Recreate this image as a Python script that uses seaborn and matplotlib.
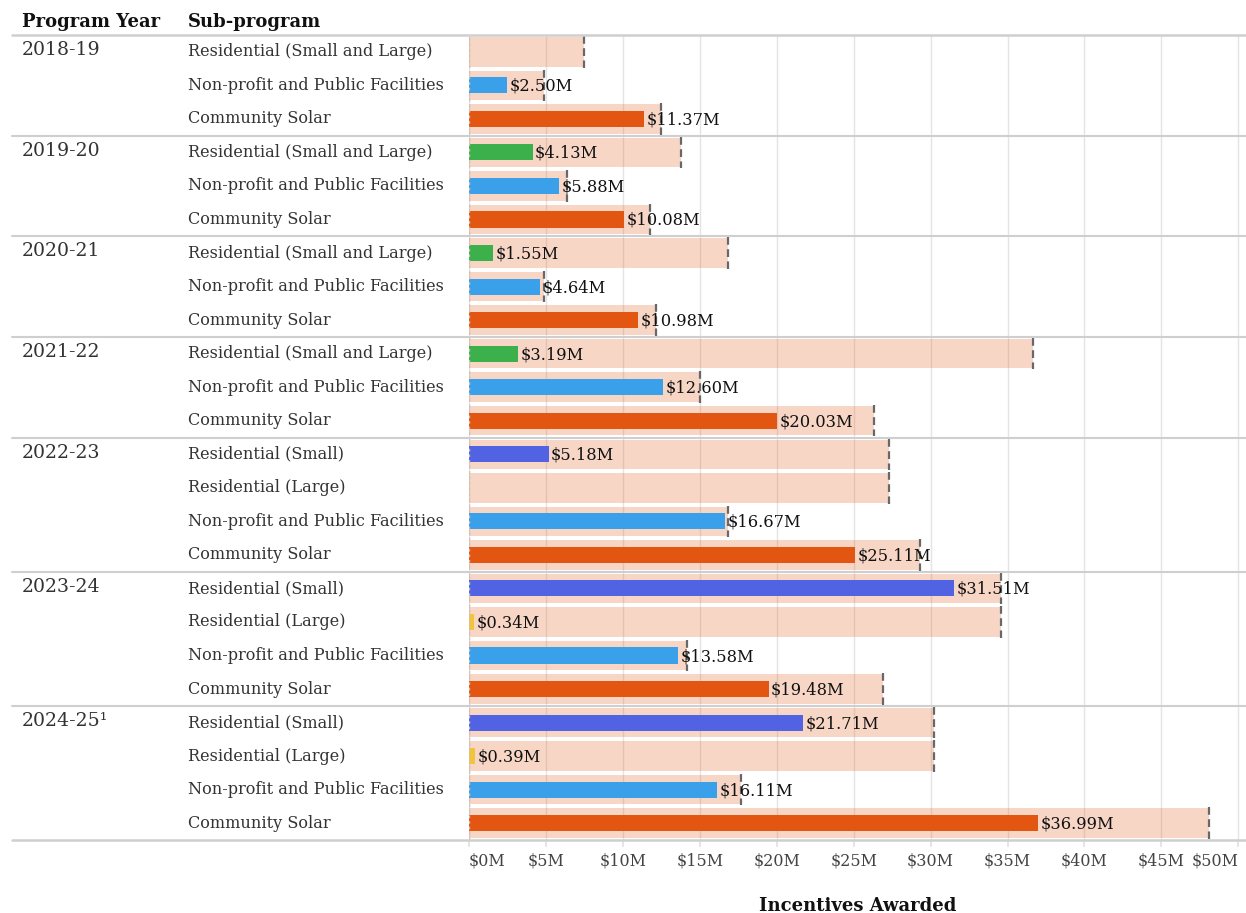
import numpy as np
import pandas as pd
import matplotlib
matplotlib.use("Agg")
import matplotlib.pyplot as plt
from matplotlib.transforms import blended_transform_factory
import seaborn as sns

# ---- data -------------------------------------------------------------
program_years = ["2018-19", "2019-20", "2020-21", "2021-22", "2022-23", "2023-24", "2024-25\u00b9"]
rows_per_year = [3, 3, 3, 3, 4, 4, 4]

sub_programs = [
    "Residential (Small and Large)", "Non-profit and Public Facilities", "Community Solar",
    "Residential (Small and Large)", "Non-profit and Public Facilities", "Community Solar",
    "Residential (Small and Large)", "Non-profit and Public Facilities", "Community Solar",
    "Residential (Small and Large)", "Non-profit and Public Facilities", "Community Solar",
    "Residential (Small)", "Residential (Large)", "Non-profit and Public Facilities", "Community Solar",
    "Residential (Small)", "Residential (Large)", "Non-profit and Public Facilities", "Community Solar",
    "Residential (Small)", "Residential (Large)", "Non-profit and Public Facilities", "Community Solar",
]

# incentives awarded ($M); NaN where nothing was awarded
awarded = [
    np.nan, 2.50, 11.37,
    4.13, 5.88, 10.08,
    1.55, 4.64, 10.98,
    3.19, 12.60, 20.03,
    5.18, np.nan, 16.67, 25.11,
    31.51, 0.34, 13.58, 19.48,
    21.71, 0.39, 16.11, 36.99,
]

# available budget ($M)
budget = [
    7.5, 4.9, 12.5,
    13.8, 6.4, 11.75,
    16.85, 4.85, 12.15,
    36.65, 15.0, 26.3,
    27.3, 27.3, 16.85, 29.3,
    34.6, 34.6, 14.15, 26.9,
    30.2, 30.2, 17.7, 48.1,
]

x_ticks = [0, 5, 10, 15, 20, 25, 30, 35, 40, 45, 50]
x_tick_labels = ["$0M", "$5M", "$10M", "$15M", "$20M", "$25M", "$30M",
                 "$35M", "$40M", "$45M", "$50M"]

palette = {
    "Residential (Small and Large)": "#3cb04a",
    "Non-profit and Public Facilities": "#3aa0ea",
    "Community Solar": "#e35612",
    "Residential (Small)": "#5163e3",
    "Residential (Large)": "#f0c43c",
}
budget_color = "#e35612"

# ---- frame --------------------------------------------------------------
row_ids = [f"r{i}" for i in range(len(sub_programs))]
df = pd.DataFrame({"row": row_ids, "sub": sub_programs,
                   "awarded": awarded, "budget": budget})

sns.set_theme(style="white")
plt.rcParams["font.family"] = ["DejaVu Serif"]

W, H = 1246, 913
fig = plt.figure(figsize=(W / 100, H / 100), dpi=100)
ax_left, ax_right = 469 / W, 1.0
ax_top, ax_bottom = 1 - 35 / H, 1 - 840 / H
ax = fig.add_axes([ax_left, ax_bottom, ax_right - ax_left, ax_top - ax_bottom])

# budget bars (translucent) and awarded bars
sns.barplot(data=df, x="budget", y="row", order=row_ids, orient="h",
            color=budget_color, saturation=1, alpha=0.24, width=0.88,
            linewidth=0, errorbar=None, ax=ax)
sns.barplot(data=df.dropna(subset=["awarded"]), x="awarded", y="row",
            order=row_ids, orient="h", hue="sub", palette=palette,
            dodge=False, saturation=1, width=0.48, linewidth=0,
            errorbar=None, legend=False, ax=ax)

n = len(row_ids)
ax.set_ylim(n - 0.5, -0.5)
ax.set_xlim(0, 50.5)

# budget markers
ax.vlines(budget, np.arange(n) - 0.47, np.arange(n) + 0.47,
          colors="#686868", linestyles=(0, (3.5, 2)), linewidth=1.6, zorder=4)
ax.axvline(0, color="#cdbfb8", linestyle=(0, (2, 2)), linewidth=1, zorder=1)

# value labels
for i, v in enumerate(awarded):
    if not np.isnan(v):
        ax.text(v + 0.15, i + 0.03, f"${v:.2f}M", va="center", ha="left",
                fontsize=11.7, color="#111111", zorder=5)

# axes styling
for s in ax.spines.values():
    s.set_visible(False)
ax.set_yticks([])
ax.set_ylabel("")
ax.set_xticks(x_ticks)
ax.set_xticklabels(x_tick_labels, fontsize=11.5, color="#444444")
labels = ax.get_xticklabels()
labels[0].set_ha("left")
labels[-1].set_ha("right")
ax.tick_params(axis="x", length=5, color="#e2e2e2", pad=4, bottom=True)
ax.grid(axis="x", color="#e4e4e4", linewidth=1)
ax.set_axisbelow(True)
ax.set_xlabel("Incentives Awarded", fontsize=13, fontweight="bold",
              color="#111111", labelpad=20)

# table on the left
fig_y = blended_transform_factory(fig.transFigure, ax.transData)
bounds = np.concatenate([[0], np.cumsum(rows_per_year)]) - 0.5
for b in bounds:
    lw = 1.8 if b in (bounds[0], bounds[-1]) else 1.5
    ax.plot([12 / W, 1.0], [b, b], transform=fig_y, clip_on=False,
            color="#cfcfcf", linewidth=lw, zorder=6)

start = 0
for year, cnt in zip(program_years, rows_per_year):
    ax.text(22 / W, start - 0.05, year, transform=fig_y, va="center",
            ha="left", fontsize=13.6, color="#333333")
    start += cnt
for i, name in enumerate(sub_programs):
    ax.text(188 / W, i, name, transform=fig_y, va="center", ha="left",
            fontsize=11.6, color="#333333")

fig.text(22 / W, 1 - 22 / H, "Program Year", fontsize=13,
         fontweight="bold", va="center", ha="left", color="#111111")
fig.text(188 / W, 1 - 22 / H, "Sub-program", fontsize=13,
         fontweight="bold", va="center", ha="left", color="#111111")

fig.savefig("out.png", dpi=100)
